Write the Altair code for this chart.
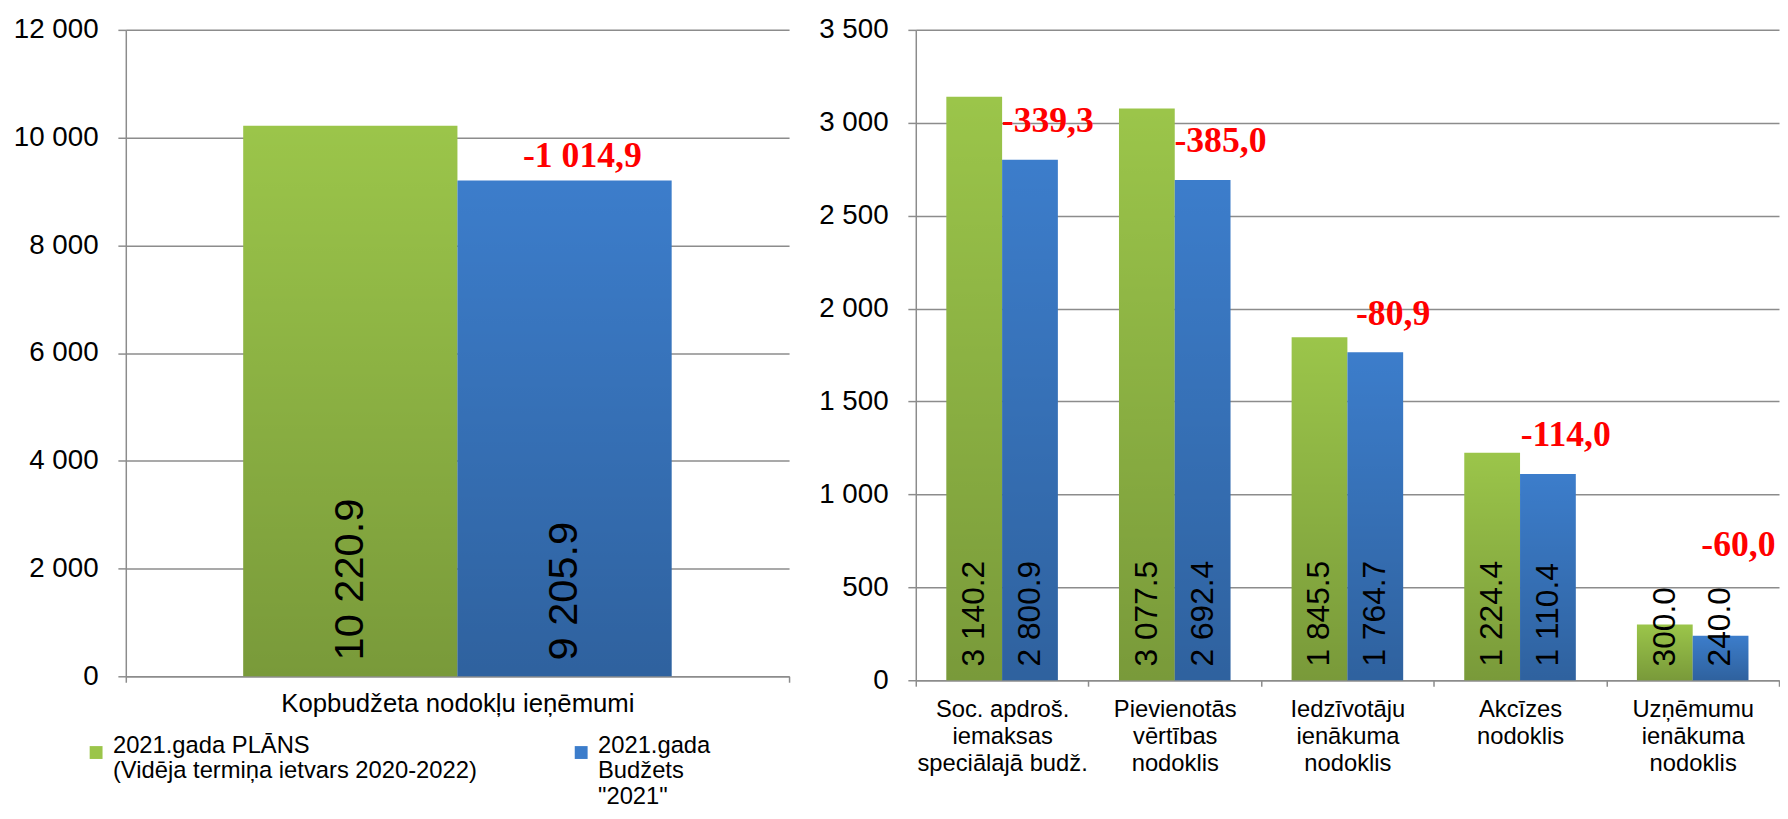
import altair as alt
import pandas as pd

# ---------------- data ----------------
series_names = [
    "2021.gada PLĀNS\n(Vidēja termiņa ietvars 2020-2022)",
    "2021.gada\nBudžets\n\"2021\"",
]
series_colors = ["#9BC54A", "#3C7DCB"]

left_categories = ["Kopbudžeta nodokļu ieņēmumi"]
left_plan = [10220.9]
left_budget = [9205.9]
left_diff = [-1014.9]
left_ticks = [0, 2000, 4000, 6000, 8000, 10000, 12000]

right_categories = [
    "Soc. apdroš.\niemaksas\nspeciālajā budž.",
    "Pievienotās\nvērtības\nnodoklis",
    "Iedzīvotāju\nienākuma\nnodoklis",
    "Akcīzes\nnodoklis",
    "Uzņēmumu\nienākuma\nnodoklis",
]
right_plan = [3140.2, 3077.5, 1845.5, 1224.4, 300.0]
right_budget = [2800.9, 2692.4, 1764.7, 1110.4, 240.0]
right_diff = [-339.3, -385.0, -80.9, -114.0, -60.0]
right_ticks = [0, 500, 1000, 1500, 2000, 2500, 3000, 3500]

AXIS_COLOR = "#8C8C8C"

shade = {
    "gradient": "linear",
    "x1": 0, "x2": 0, "y1": 0, "y2": 1,
    "stops": [
        {"offset": 0, "color": "rgba(0,0,0,0)"},
        {"offset": 1, "color": "rgba(0,0,0,0.22)"},
    ],
}

legend = alt.Legend(
    title=None,
    orient="none",
    legendX=-42,
    legendY=718,
    direction="horizontal",
    columns=2,
    symbolType="square",
    symbolSize=169,
    symbolStrokeWidth=0,
    labelFontSize=24,
    labelColor="black",
    labelExpr="split(length(split(datum.label, '\\n')) < 3 ? datum.label + '\\n ' : datum.label, '\\n')",
    labelBaseline="alphabetic",
    labelOffset=5,
    labelLimit=600,
    columnPadding=93,
    padding=0,
)


def fmt_space(expr, spec):
    return "replace(replace(format(" + expr + ", '" + spec + "'), ',', ' '), '\u2212', '-')"


def panel(cats, plan, budget, diff, ymax, ticks, w, h, xlab_size, xlab_pad,
          val_size, val_dx, diff_dy, label_floor):
    n = len(cats)
    bars_df = pd.DataFrame({
        "category": cats + cats,
        "series": [series_names[0]] * n + [series_names[1]] * n,
        "value": plan + budget,
    })
    diff_df = pd.DataFrame({
        "category": cats,
        "series": [series_names[1]] * n,
        "value": budget,
        "diff": diff,
    })

    x = alt.X(
        "category:N", sort=cats, title=None,
        scale=alt.Scale(paddingInner=0, paddingOuter=0),
        axis=alt.Axis(
            labelAngle=0, tickBand="extent",
            labelExpr="split(datum.label, '\\n')",
            labelLineHeight=27, labelFontSize=xlab_size, labelPadding=xlab_pad,
            labelBaseline="top", labelColor="black", labelLimit=500,
            tickSize=6, tickColor=AXIS_COLOR, tickWidth=1.5,
            domainColor=AXIS_COLOR, domainWidth=1.5, grid=False,
        ),
    )
    xo = alt.XOffset(
        "series:N", sort=series_names,
        scale=alt.Scale(domain=series_names, paddingInner=0, paddingOuter=0.548),
    )
    yaxis = alt.Axis(
        values=ticks,
        labelExpr="replace(format(datum.value, ','), ',', ' ')",
        labelFontSize=28, labelColor="black", labelPadding=20,
        tickSize=8, tickColor=AXIS_COLOR, tickWidth=1.5,
        domainColor=AXIS_COLOR, domainWidth=1.5,
        gridColor=AXIS_COLOR, gridWidth=1.5,
    )
    yscale = alt.Scale(domain=[0, ymax], nice=False, zero=True)
    y = alt.Y("value:Q", title=None, scale=yscale, axis=yaxis)

    base = alt.Chart(bars_df)
    colored = base.mark_bar().encode(
        x=x, xOffset=xo, y=y,
        color=alt.Color(
            "series:N", sort=series_names,
            scale=alt.Scale(domain=series_names, range=series_colors),
            legend=legend,
        ),
    )
    shaded = base.mark_bar(fill=shade).encode(x=x, xOffset=xo, y=y)
    values = base.transform_calculate(
        label=fmt_space("datum.value", ",.1f")
    ).mark_text(
        angle=270, align="left", baseline="middle", dx=val_dx,
        fontSize=val_size, color="black", font="Liberation Sans",
    ).encode(x=x, xOffset=xo, y=alt.YDatum(0), text="label:N")
    # the red difference sits above the budget bar, or above its value text
    diffs = alt.Chart(diff_df).transform_calculate(
        label="replace(" + fmt_space("datum.diff", ",.1f") + ", '.', ',')",
        anchor="max(datum.value, " + str(label_floor) + ")",
    ).mark_text(
        font="Liberation Serif", fontWeight="bold", fontSize=36, color="#FF0000",
        align="center", baseline="alphabetic", dx=18, dy=diff_dy,
    ).encode(x=x, xOffset=xo, y=alt.Y("anchor:Q", scale=yscale, axis=yaxis, title=None),
             text="label:N")

    return alt.layer(colored, shaded, values, diffs).properties(width=w, height=h)


left = panel(left_categories, left_plan, left_budget, left_diff, 12000, left_ticks,
             670, 653, 26, 9, 42, 16, -14, 0)
right = panel(right_categories, right_plan, right_budget, right_diff, 3500, right_ticks,
              872, 657, 24, 12, 32, 14, -28, 520)

chart = alt.hconcat(left, right, spacing=28).resolve_scale(
    x="independent", y="independent", xOffset="independent", color="shared"
).properties(
    padding={"left": 5, "top": 4, "right": 0, "bottom": 0}
).configure(
    font="Liberation Sans"
).configure_view(strokeWidth=0)

chart.save("out.html", embed_options={"renderer": "svg", "actions": False})
